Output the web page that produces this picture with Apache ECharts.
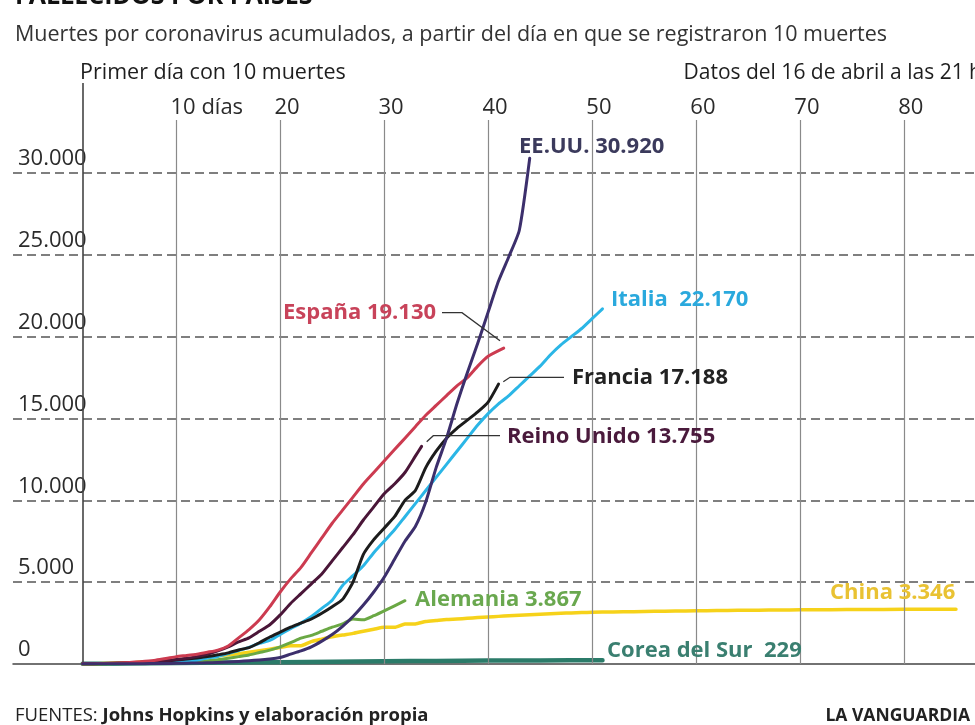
<!DOCTYPE html>
<html><head><meta charset="utf-8">
<script src="https://cdn.jsdelivr.net/npm/echarts@6/dist/echarts.min.js"></script>
<style>html,body{margin:0;padding:0;background:#fff}#c{width:975px;height:725px}</style>
</head><body><div id="c"></div>
<script>
// ---- data (days since the 10th death, cumulative deaths) ----
const xTicks = [10, 20, 30, 40, 50, 60, 70, 80];
const xTickLabels = ['10 días', '20', '30', '40', '50', '60', '70', '80'];
const yTicks = [0, 5000, 10000, 15000, 20000, 25000, 30000];
const yTickLabels = ['0', '5.000', '10.000', '15.000', '20.000', '25.000', '30.000'];

const espana = [[1,10],[2,20],[3,30],[4,50],[5,80],[6,120],[7,170],[8,230],[9,330],[10,450],[11,520],[12,600],[13,720],[14,850],[15,1100],[16,1600],[17,2100],[18,2700],[19,3500],[20,4400],[21,5200],[22,5900],[23,6800],[24,7700],[25,8600],[26,9400],[27,10200],[28,11000],[29,11700],[30,12400],[31,13100],[32,13800],[33,14500],[34,15200],[35,15800],[36,16400],[37,17000],[38,17500],[39,18200],[40,18800],[41.5,19300]];
const reinoUnido = [[1,10],[2,20],[3,30],[4,45],[5,60],[6,80],[7,110],[8,150],[9,200],[10,270],[11,350],[12,450],[13,600],[14,800],[15,1050],[16,1350],[17,1600],[18,2000],[19,2400],[20,3000],[21,3700],[22,4300],[23,4900],[24,5500],[25,6300],[26,7100],[27,7900],[28,8800],[29,9600],[30,10400],[31,11000],[32,11700],[33,12700],[33.6,13300]];
const francia = [[1,10],[2,15],[3,25],[4,35],[5,50],[6,70],[7,100],[8,130],[9,180],[10,240],[11,300],[12,370],[13,450],[14,560],[15,680],[16,860],[17,1000],[18,1300],[19,1650],[20,1950],[21,2250],[22,2500],[23,2750],[24,3100],[25,3500],[26,3950],[27,5000],[28,6700],[29,7600],[30,8300],[31,9000],[32,10000],[33,10600],[34,12000],[35,13000],[36,13800],[37,14400],[38,14900],[39,15400],[40,16000],[41,17100]];
const italia = [[1,10],[2,12],[3,17],[4,21],[5,29],[6,34],[7,52],[8,79],[9,107],[10,148],[11,197],[12,233],[13,366],[14,463],[15,631],[16,827],[17,1016],[18,1266],[19,1441],[20,1809],[21,2158],[22,2500],[23,2900],[24,3400],[25,3900],[26,4800],[27,5400],[28,6000],[29,6800],[30,7500],[31,8200],[32,9000],[33,9800],[34,10600],[35,11400],[36,12200],[37,13000],[38,13800],[39,14600],[40,15300],[41,15900],[42,16400],[43,17000],[44,17600],[45,18200],[46,18900],[47,19500],[48,20000],[49,20500],[50,21100],[51,21700]];
const eeuu = [[1,10],[2,11],[3,12],[4,14],[5,17],[6,21],[7,22],[8,28],[9,36],[10,40],[11,50],[12,60],[13,70],[14,90],[15,120],[16,160],[17,200],[18,250],[19,300],[20,400],[21,600],[22,800],[23,1050],[24,1400],[25,1800],[26,2300],[27,2900],[28,3600],[29,4400],[30,5300],[31,6400],[32,7500],[33,8400],[34,9900],[35,12000],[36,13800],[37,15900],[38,17800],[39,19600],[40,21500],[41,23400],[42,24900],[43,26500],[44,30900]];
const alemania = [[1,10],[2,12],[3,15],[4,20],[5,25],[6,30],[7,40],[8,50],[9,70],[10,90],[11,120],[12,160],[13,200],[14,260],[15,350],[16,450],[17,550],[18,700],[19,850],[20,1050],[21,1300],[22,1580],[23,1750],[24,2000],[25,2250],[26,2450],[27,2750],[28,2700],[29,2950],[30,3250],[31,3550],[32,3867]];
const china = [[1,17],[2,18],[3,26],[4,42],[5,56],[6,82],[7,131],[8,133],[9,171],[10,213],[11,259],[12,361],[13,425],[14,491],[15,563],[16,633],[17,718],[18,805],[19,905],[20,1010],[21,1110],[22,1120],[23,1370],[24,1520],[25,1660],[26,1770],[27,1870],[28,2000],[29,2120],[30,2240],[31,2240],[32,2440],[33,2450],[34,2600],[35,2660],[36,2720],[37,2750],[38,2790],[39,2840],[40,2870],[41,2910],[42,2950],[43,2980],[44,3010],[45,3040],[46,3070],[47,3100],[48,3120],[49,3140],[50,3160],[52,3180],[54,3200],[56,3220],[58,3240],[60,3250],[62,3270],[64,3280],[66,3290],[68,3300],[70,3310],[73,3320],[76,3330],[80,3340],[85,3346]];
const corea = [[1,10],[5,30],[10,60],[15,90],[20,110],[25,140],[30,170],[35,190],[40,210],[45,220],[51,229]];

// ---- layout / style ----
const FONT = '"Open Sans", "Liberation Sans", sans-serif';
const X_MIN = -5.7, X_MAX = 86.83, Y_MAX = 35500, GRID_TOP_VALUE = 33240, FIRST_DAY = 1;

const chart = echarts.init(document.getElementById('c'), null, {renderer: 'canvas'});

function lineSeries(name, data, color, width, z) {
  return {
    name, type: 'line', data, z, xAxisIndex: 0, yAxisIndex: 0,
    showSymbol: false, symbol: 'none', smooth: 0.2, silent: true,
    lineStyle: {color, width, cap: 'round', join: 'round'}
  };
}

const splitColors = ['rgba(0,0,0,0)', '#555', '#555', '#555', '#555', '#555', '#555', 'rgba(0,0,0,0)', 'rgba(0,0,0,0)'];
const LABEL_FONT = 'bold 22px ' + FONT;

const option = {
  animation: false,
  backgroundColor: '#ffffff',
  grid: {left: 13, right: 0, top: 83, bottom: 61, containLabel: false},
  xAxis: [{
    type: 'value', min: X_MIN, max: X_MAX, position: 'top',
    axisLine: {show: false}, axisTick: {show: false}, splitLine: {show: false},
    axisLabel: {
      inside: true, customValues: xTicks.map(t => t - 0.55),
      formatter: (v) => { const i = xTicks.indexOf(Math.round(v + 0.55)); return i >= 0 ? xTickLabels[i] : ''; },
      align: 'left', verticalAlign: 'top', margin: 14,
      fontFamily: FONT, fontSize: 22, color: '#2b2b2b'
    }
  }, {
    type: 'value', min: X_MIN, max: X_MAX, position: 'bottom',
    axisLine: {show: true, lineStyle: {color: '#444', width: 1.5}},
    axisTick: {show: false}, axisLabel: {show: false}, splitLine: {show: false}
  }],
  yAxis: {
    type: 'value', min: 0, max: Y_MAX, interval: 5000,
    axisLine: {show: false}, axisTick: {show: false},
    splitLine: {show: true, lineStyle: {color: splitColors, width: 1.5, type: [9, 5]}},
    axisLabel: {
      inside: true, margin: 5, align: 'left', verticalAlign: 'bottom',
      padding: [0, 0, 3, 0],
      formatter: (v) => { const i = yTicks.indexOf(v); return i >= 0 ? yTickLabels[i] : ''; },
      fontFamily: FONT, fontSize: 22, color: '#2b2b2b'
    }
  },
  series: [
    {
      type: 'line', data: [], z: 1, silent: true, xAxisIndex: 0,
      markLine: {
        silent: true, symbol: ['none', 'none'], label: {show: false}, animation: false,
        lineStyle: {color: '#8a8a8a', width: 1.2, type: 'solid'},
        data: xTicks.map(t => [{coord: [t, 0]}, {coord: [t, GRID_TOP_VALUE]}]).concat([
          [{coord: [FIRST_DAY, 0], lineStyle: {color: '#444', width: 1.6}},
           {coord: [FIRST_DAY, Y_MAX]}]
        ])
      }
    },
    lineSeries('Corea del Sur', corea, '#2b7b69', 4.5, 3),
    lineSeries('China', china, '#f6d21a', 3.5, 4),
    lineSeries('Alemania', alemania, '#6aa844', 3, 5),
    lineSeries('Italia', italia, '#2bb6e6', 3, 6),
    lineSeries('Francia', francia, '#1c1c1c', 3, 7),
    lineSeries('Reino Unido', reinoUnido, '#4a1638', 3, 8),
    lineSeries('España', espana, '#cc3b50', 3, 9),
    lineSeries('EE.UU.', eeuu, '#3c2f6c', 3, 10)
  ],
  graphic: [
    {type: 'text', x: 15, y: 9, style: {text: 'FALLECIDOS POR PAÍSES', fill: '#111', font: 'bold 25px ' + FONT, textVerticalAlign: 'bottom'}},
    {type: 'text', x: 15, y: 35, style: {text: 'Muertes por coronavirus acumulados, a partir del día en que se registraron 10 muertes', fill: '#333', font: '21.5px ' + FONT, textVerticalAlign: 'middle'}},
    {type: 'text', x: 80, y: 73, style: {text: 'Primer día con 10 muertes', fill: '#1e1e1e', font: '21.5px ' + FONT, textVerticalAlign: 'middle'}},
    {type: 'text', x: 982, y: 73, style: {text: 'Datos del 16 de abril a las 21 h', fill: '#1e1e1e', font: '21px ' + FONT, textAlign: 'right', textVerticalAlign: 'middle'}},

    {type: 'text', x: 519, y: 147, z: 20, style: {text: 'EE.UU. 30.920', fill: '#3b3a5c', font: LABEL_FONT, textVerticalAlign: 'middle'}},
    {type: 'text', x: 611, y: 300, z: 20, style: {text: 'Italia  22.170', fill: '#2aa9dd', font: LABEL_FONT, textVerticalAlign: 'middle'}},
    {type: 'text', x: 283, y: 313, z: 20, style: {text: 'España 19.130', fill: '#c8435a', font: LABEL_FONT, textVerticalAlign: 'middle'}},
    {type: 'text', x: 572, y: 378, z: 20, style: {text: 'Francia 17.188', fill: '#222', font: LABEL_FONT, textVerticalAlign: 'middle'}},
    {type: 'text', x: 507, y: 437, z: 20, style: {text: 'Reino Unido 13.755', fill: '#4a1a3c', font: LABEL_FONT, textVerticalAlign: 'middle'}},
    {type: 'text', x: 415, y: 600, z: 20, style: {text: 'Alemania 3.867', fill: '#6aa84f', font: LABEL_FONT, textVerticalAlign: 'middle'}},
    {type: 'text', x: 830, y: 593, z: 20, style: {text: 'China 3.346', fill: '#e9c233', font: LABEL_FONT, textVerticalAlign: 'middle'}},
    {type: 'text', x: 607, y: 651, z: 20, style: {text: 'Corea del Sur  229', fill: '#3a7f70', font: LABEL_FONT, textVerticalAlign: 'middle'}},

    {type: 'polyline', z: 20, shape: {points: [[442, 312.7], [462, 312.7], [500, 340.7]]}, style: {stroke: '#333', lineWidth: 1.3, fill: null}},
    {type: 'polyline', z: 20, shape: {points: [[503.3, 381.7], [510, 377.3], [564, 377.3]]}, style: {stroke: '#333', lineWidth: 1.3, fill: null}},
    {type: 'polyline', z: 20, shape: {points: [[426.7, 441.7], [433.3, 435.7], [500, 435.7]]}, style: {stroke: '#333', lineWidth: 1.3, fill: null}},

    {type: 'text', x: 15, y: 716, style: {
      text: '{a|FUENTES: }{b|Johns Hopkins y elaboración propia}', textVerticalAlign: 'middle',
      rich: {a: {fontFamily: FONT, fontSize: 18.5, fill: '#222', color: '#222'}, b: {fontFamily: FONT, fontSize: 18.5, fontWeight: 'bold', fill: '#222', color: '#222'}}
    }},
    {type: 'text', x: 970, y: 716, style: {text: 'LA VANGUARDIA', fill: '#222', font: 'bold 17.5px ' + FONT, textAlign: 'right', textVerticalAlign: 'middle'}}
  ]
};
chart.setOption(option);
</script></body></html>
